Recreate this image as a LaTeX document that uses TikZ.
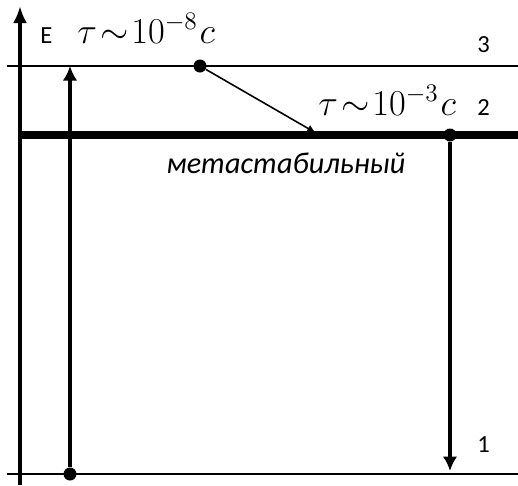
\documentclass[tikz,border=0pt]{standalone}
\usepackage{fontspec}
\newfontfamily\lblfont{Carlito}
\usetikzlibrary{arrows.meta, positioning}

\begin{document}
\begin{tikzpicture}[
  x=0.02cm, y=-0.02cm,
  >=Latex,
  level/.style={line width=0.9pt},
  mlevel/.style={line width=4pt},
  axis/.style={line width=2.8pt, -{Latex[length=3.4mm,width=2.8mm]}},
  trans/.style={line width=1.9pt, -{Latex[length=2.9mm,width=2.9mm]}},
  decay/.style={line width=0.9pt, -{Latex[length=1.8mm,width=1.6mm]}},
  dot/.style={circle, fill, inner sep=0pt, minimum size=2.6mm},
  num/.style={font=\lblfont\fontsize{14}{16}\selectfont, inner sep=0pt, anchor=base west},
  tau/.style={font=\fontsize{20}{24}\selectfont, inner sep=0pt, anchor=base west},
  meta/.style={font=\lblfont\itshape\fontsize{17.2}{20}\selectfont, inner sep=0pt, anchor=base west}
]
  \useasboundingbox (0,0) rectangle (518,485);

  % levels
  \coordinate (l3w) at (7,66);   \coordinate (l3e) at (518,66);
  \coordinate (l2w) at (20,135); \coordinate (l2e) at (518,135);
  \coordinate (l1w) at (7,474);  \coordinate (l1e) at (518,474);
  \draw[level] (l3w) -- (l3e);
  \draw[mlevel] (l2w) -- (l2e);
  \draw[level] (l1w) -- (l1e);

  % energy axis
  \coordinate (ax0) at (20,485);
  \coordinate (ax1) at (20,6);
  \draw[axis] (ax0) -- (ax1);
  \node[num] (E) at (40,43) {E};

  % dots and transitions
  \node[dot] (p1) at (70,474) {};
  \node[dot] (p3) at (200,66) {};
  \node[dot] (p2) at (450,135) {};
  \coordinate (up) at (70,66);
  \coordinate (hit) at (316,133);
  \coordinate (down) at (450,471);
  \draw[trans] (p1) -- (up);
  \draw[decay] (p3) -- (hit);
  \draw[trans] (p2) -- (down);

  % labels
  \node[tau] (tau3) at (77,43) {$\tau\mskip2mu{\sim}\mskip1mu10^{-8}\mskip1mu c$};
  \node[tau] (tau2) at (318,115) {$\tau\mskip2mu{\sim}\mskip1mu10^{-3}\mskip1mu c$};
  \node[num] (n3) at (477,52) {3};
  \node[num] (n2) at (477,115) {2};
  \node[num] (n1) at (477,452) {1};
  \node[meta] (ms) at (166,173) {метастабильный};
\end{tikzpicture}
\end{document}
